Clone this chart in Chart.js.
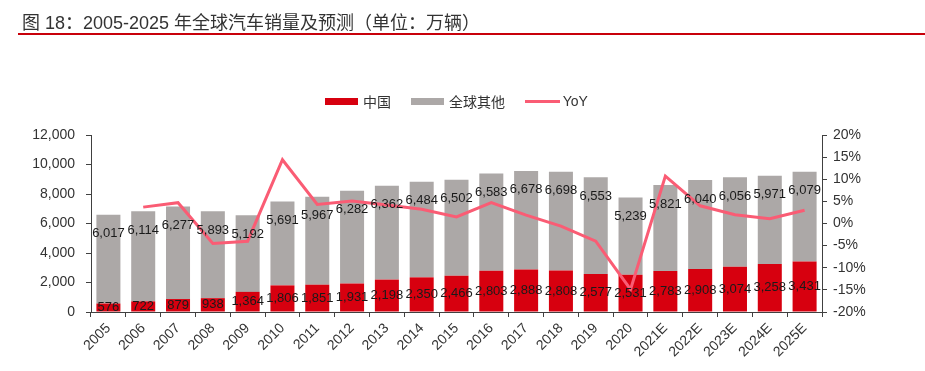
<!DOCTYPE html>
<html>
<head>
<meta charset="utf-8">
<script src="https://cdn.jsdelivr.net/npm/chart.js@4"></script>
<style>
  body { margin: 0; background: #fff; }
  #wrap { position: relative; width: 925px; height: 371px; font-family: "Liberation Sans", "Noto Sans CJK SC", sans-serif; }
  #wrap canvas { position: absolute; left: 0; top: 0; }
  .title { position: absolute; left: 22px; top: 8px; font-size: 18px; color: #333; white-space: nowrap; }
  .rule { position: absolute; left: 18px; right: 0; top: 33px; height: 2px; background: #c8000a; }
  .legend { position: absolute; top: 91px; left: 325px; font-size: 14px; color: #333; white-space: nowrap; }
  .legend span { display: inline-block; vertical-align: middle; }
  .sw { width: 33px; height: 7px; margin-right: 5px; }
  .ln { width: 35px; height: 3px; margin-right: 3px; }
  .item { margin-right: 16px; }
</style>
</head>
<body>
<div id="wrap">
  <canvas id="chart" width="925" height="371"></canvas>
  <div class="title">图 18：2005-2025 年全球汽车销量及预测（单位：万辆）</div>
  <div class="rule"></div>
  <div class="legend">
    <span class="sw" style="background:#d7000f"></span><span class="item">中国</span>
    <span class="sw" style="background:#aca8a7"></span><span class="item">全球其他</span>
    <span class="ln" style="background:#fa5c74"></span><span>YoY</span>
  </div>
</div>
<script>
var years = ["2005", "2006", "2007", "2008", "2009", "2010", "2011", "2012", "2013", "2014", "2015",
  "2016", "2017", "2018", "2019", "2020", "2021E", "2022E", "2023E", "2024E", "2025E"];
var china = [576, 722, 879, 938, 1364, 1806, 1851, 1931, 2198, 2350, 2466,
  2803, 2888, 2808, 2577, 2531, 2783, 2908, 3074, 3258, 3431];
var others = [6017, 6114, 6277, 5893, 5192, 5691, 5967, 6282, 6362, 6484, 6502,
  6583, 6678, 6698, 6553, 5239, 5821, 6040, 6056, 5971, 6079];
var yoy = [null, 3.7, 4.7, -4.5, -4.0, 14.4, 4.3, 5.1, 4.2, 3.2, 1.5,
  4.7, 1.9, -0.6, -4.0, -14.9, 10.7, 4.0, 2.0, 1.1, 3.0];

var barLabels = {
  id: 'barLabels',
  afterDatasetsDraw: function (chart) {
    var ctx = chart.ctx;
    ctx.save();
    ctx.font = '13px "Liberation Sans", Arial, sans-serif';
    ctx.fillStyle = '#1a1a1a';
    ctx.textAlign = 'center';
    ctx.textBaseline = 'middle';
    [1, 2].forEach(function (di) {
      var meta = chart.getDatasetMeta(di);
      var vals = chart.data.datasets[di].data;
      meta.data.forEach(function (bar, i) {
        var y = di === 1 ? (bar.y + bar.base) / 2 : bar.y + 19;
        ctx.fillText(vals[i].toLocaleString('en-US'), bar.x, y);
      });
    });
    ctx.restore();
  }
};

var axisColor = '#404040';
var tickFont = { family: '"Liberation Sans", Arial, sans-serif', size: 14 };

new Chart(document.getElementById('chart'), {
  type: 'bar',
  data: {
    labels: years,
    datasets: [{
      type: 'line',
      label: 'YoY',
      data: yoy,
      yAxisID: 'y1',
      borderColor: '#fa5c74',
      borderWidth: 3,
      pointRadius: 0,
      tension: 0,
      order: 0
    }, {
      label: '中国',
      data: china,
      backgroundColor: '#d7000f',
      barPercentage: 0.69,
      categoryPercentage: 1,
      order: 1
    }, {
      label: '全球其他',
      data: others,
      backgroundColor: '#aca8a7',
      barPercentage: 0.69,
      categoryPercentage: 1,
      order: 2
    }]
  },
  options: {
    responsive: false,
    animation: false,
    layout: { padding: { top: 135, left: 0, right: 0, bottom: 0 } },
    plugins: {
      legend: { display: false },
      tooltip: { enabled: false }
    },
    scales: {
      x: {
        stacked: true,
        border: { color: axisColor },
        grid: { offset: true, drawOnChartArea: false, tickLength: 5, color: axisColor },
        ticks: { minRotation: 45, maxRotation: 45, color: '#333', font: tickFont },
        afterFit: function (s) { s.height = 59; }
      },
      y: {
        stacked: true,
        min: 0,
        max: 12000,
        ticks: { stepSize: 2000, color: '#333', font: tickFont, padding: 11 },
        border: { color: axisColor },
        grid: { drawOnChartArea: false, tickLength: 5, color: axisColor },
        afterFit: function (s) { s.width = 91; }
      },
      y1: {
        position: 'right',
        min: -20,
        max: 20,
        ticks: { stepSize: 5, color: '#333', font: tickFont, padding: 6,
          callback: function (v) { return v + '%'; } },
        border: { color: axisColor },
        grid: { drawOnChartArea: false, tickLength: 5, color: axisColor },
        afterFit: function (s) { s.width = 103; }
      }
    }
  },
  plugins: [barLabels]
});
</script>
</body>
</html>
